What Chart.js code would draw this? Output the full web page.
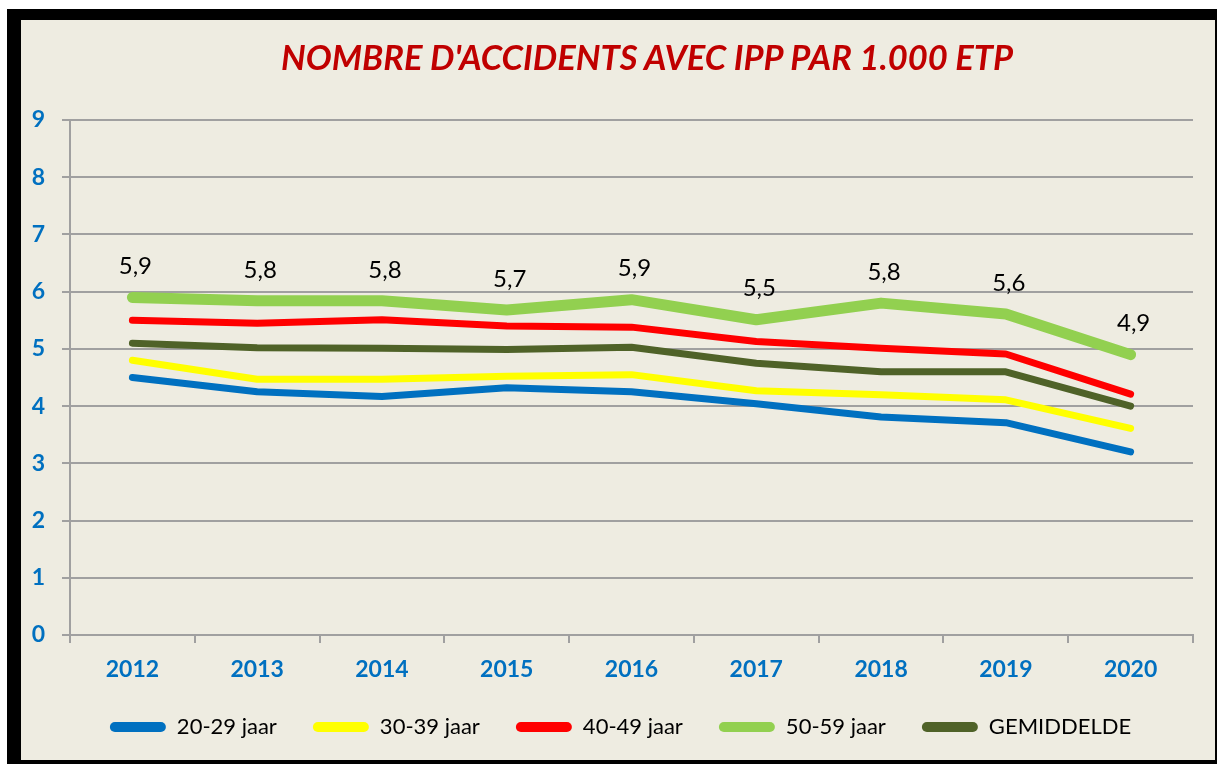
<!DOCTYPE html>
<html>
<head>
<meta charset="utf-8">
<script src="https://cdn.jsdelivr.net/npm/chart.js@4"></script>
<style>
  body { margin: 0; background: #fff; }
  #frame {
    position: absolute; left: 7px; top: 9px;
    width: 1194px; height: 740px;
    background: #EEECE1;
    border-style: solid; border-color: #000;
    border-width: 11px 2px 4px 14px;
  }
  #title {
    position: absolute; left: 147px; top: 36px; width: 1000px;
    text-align: center;
    font: italic bold 34.5px Lato, sans-serif;
    color: #C00000;
  }
  #wrap { position: absolute; left: 21px; top: 20px; width: 1194px; height: 740px; }
</style>
</head>
<body>
<div id="frame"></div>
<div id="wrap"><canvas id="myChart" width="1194" height="740"></canvas></div>
<div id="title">NOMBRE D'ACCIDENTS AVEC IPP PAR 1.000 ETP</div>
<script>
// values
const years = ['2012', '2013', '2014', '2015', '2016', '2017', '2018', '2019', '2020'];
const age20 = [4.50, 4.25, 4.17, 4.32, 4.25, 4.04, 3.81, 3.71, 3.20];
const age30 = [4.80, 4.47, 4.47, 4.52, 4.55, 4.27, 4.20, 4.11, 3.61];
const age40 = [5.50, 5.45, 5.51, 5.40, 5.38, 5.13, 5.01, 4.91, 4.21];
const age50 = [5.90, 5.84, 5.84, 5.68, 5.86, 5.51, 5.80, 5.61, 4.90];
const average = [5.10, 5.02, 5.01, 4.99, 5.03, 4.75, 4.60, 4.60, 4.00];
const yTicks = [0, 1, 2, 3, 4, 5, 6, 7, 8, 9];

const gridColor = '#a0a0a0';
const axisBlue = '#0070C0';

function line(label, data, color, width) {
    return {
        label: label,
        data: data,
        borderColor: color,
        backgroundColor: color,
        borderWidth: width,
        borderCapStyle: 'round',
        borderJoinStyle: 'round',
        pointRadius: 0,
        tension: 0
    };
}

// labels above the 50-59 line only
const valueLabels = {
    id: 'valueLabels',
    afterDatasetsDraw(chart) {
        const c = chart.ctx;
        const meta = chart.getDatasetMeta(3);
        c.save();
        c.font = '24px Lato, sans-serif';
        c.fillStyle = '#000';
        c.textAlign = 'center';
        c.textBaseline = 'middle';
        meta.data.forEach((pt, i) => {
            c.fillText(age50[i].toFixed(1).replace('.', ','), pt.x + 3, pt.y - 31);
        });
        c.restore();
    }
};

// legend sits a bit right of the canvas centre in the original
const legendShift = {
    id: 'legendShift',
    afterLayout(chart) {
        chart.legend.left += 9;
        chart.legend.right += 9;
    }
};

const ctx = document.getElementById('myChart');
const myChart = new Chart(ctx, {
    type: 'line',
    data: {
        labels: years,
        datasets: [
            line('20-29 jaar', age20, '#0070C0', 7),
            line('30-39 jaar', age30, '#FFFF00', 7),
            line('40-49 jaar', age40, '#FF0000', 7),
            line('50-59 jaar', age50, '#92D050', 11),
            line('GEMIDDELDE', average, '#4F6228', 7)
        ]
    },
    options: {
        responsive: false,
        animation: false,
        layout: {
            padding: { left: 9, right: 22, top: 100, bottom: 12 }
        },
        scales: {
            x: {
                offset: true,
                afterFit(axis) { axis.height = 45; },
                grid: {
                    offset: true,
                    drawOnChartArea: false,
                    drawTicks: true,
                    tickLength: 8,
                    color: gridColor,
                    lineWidth: 2
                },
                border: { color: gridColor, width: 2 },
                ticks: {
                    color: axisBlue,
                    padding: 13,
                    font: { family: 'Lato', size: 23, weight: 'bold' }
                }
            },
            y: {
                min: 0,
                max: 9,
                afterFit(axis) { axis.width = 40; },
                afterBuildTicks(axis) {
                    axis.ticks = yTicks.map(v => ({ value: v }));
                },
                grid: {
                    color: gridColor,
                    lineWidth: 2,
                    tickLength: 8
                },
                border: { color: gridColor, width: 2 },
                ticks: {
                    color: axisBlue,
                    padding: 17,
                    font: { family: 'Lato', size: 23, weight: 'bold' }
                }
            }
        },
        plugins: {
            title: { display: false },
            tooltip: { enabled: false },
            legend: {
                position: 'bottom',
                labels: {
                    boxWidth: 56,
                    boxHeight: 10,
                    useBorderRadius: true,
                    borderRadius: 5,
                    padding: 36,
                    color: '#000',
                    font: { family: 'Lato', size: 22 },
                    generateLabels(chart) {
                        return Chart.defaults.plugins.legend.labels.generateLabels(chart).map(l => {
                            l.fillStyle = l.strokeStyle;
                            l.lineWidth = 0;
                            return l;
                        });
                    }
                }
            }
        }
    },
    plugins: [valueLabels, legendShift]
});
</script>
</body>
</html>
